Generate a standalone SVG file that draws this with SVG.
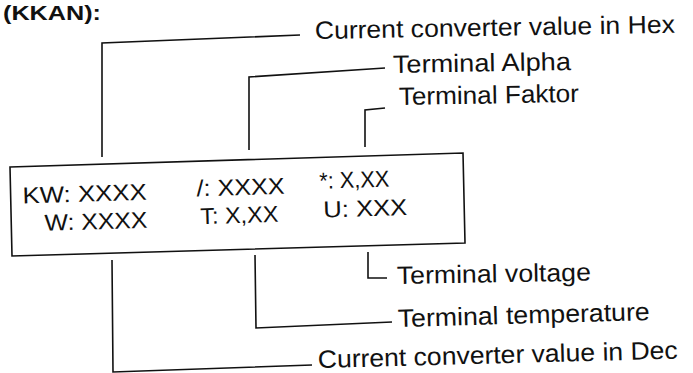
<svg xmlns="http://www.w3.org/2000/svg" width="693" height="373" viewBox="0 0 693 373">
<style>
.lbl{font-family:"Liberation Sans",Arial,sans-serif;font-size:25px;fill:#111}
.val{font-family:"Liberation Sans",Arial,sans-serif;font-size:23px;fill:#111}
.ttl{font-family:"Liberation Sans",Arial,sans-serif;font-size:21px;font-weight:bold;fill:#111}
.ln{fill:none;stroke:#111;stroke-width:1.6}
</style>
<rect width="693" height="373" fill="#fff"/>
<text class="ttl" x="3" y="20" textLength="98" lengthAdjust="spacingAndGlyphs">(KKAN):</text>
<g id="display">
<polygon class="ln" points="10,167 463,153 465,243 12,256"/>
<g transform="rotate(-1.7 240 205)">
<text class="val" x="23" y="197" textLength="124" lengthAdjust="spacingAndGlyphs">KW: XXXX</text>
<text class="val" x="44" y="225" textLength="103" lengthAdjust="spacingAndGlyphs">W: XXXX</text>
<text class="val" x="197" y="195" textLength="88" lengthAdjust="spacingAndGlyphs">/: XXXX</text>
<text class="val" x="200" y="223" textLength="78" lengthAdjust="spacingAndGlyphs">T: X,XX</text>
<text class="val" x="320" y="191" textLength="70" lengthAdjust="spacingAndGlyphs">*: X,XX</text>
<text class="val" x="323" y="220" textLength="84" lengthAdjust="spacingAndGlyphs">U: XXX</text>
</g>
</g>
<g id="connectors">
<polyline class="ln" points="102,157 102,43 300,35"/>
<polyline class="ln" points="249,150 249,77 385,68"/>
<polyline class="ln" points="365,147 365,110 385,108"/>
<polyline class="ln" points="368,252 368,278 387,278"/>
<polyline class="ln" points="255,255 256,328 392,322"/>
<polyline class="ln" points="112,260 113,372 312,365"/>
</g>
<g id="label-hex"><text class="lbl" x="315" y="39" textLength="360" lengthAdjust="spacingAndGlyphs" transform="rotate(-1 315 39)">Current converter value in Hex</text></g>
<g id="label-alpha"><text class="lbl" x="393" y="73" textLength="178" lengthAdjust="spacingAndGlyphs" transform="rotate(-1 393 73)">Terminal Alpha</text></g>
<g id="label-faktor"><text class="lbl" x="399" y="105" textLength="180" lengthAdjust="spacingAndGlyphs" transform="rotate(-1 399 105)">Terminal Faktor</text></g>
<g id="label-voltage"><text class="lbl" x="397" y="284" textLength="194" lengthAdjust="spacingAndGlyphs" transform="rotate(-1 397 284)">Terminal voltage</text></g>
<g id="label-temp"><text class="lbl" x="398" y="327" textLength="252" lengthAdjust="spacingAndGlyphs" transform="rotate(-1.6 398 327)">Terminal temperature</text></g>
<g id="label-dec"><text class="lbl" x="318" y="368" textLength="360" lengthAdjust="spacingAndGlyphs" transform="rotate(-1.5 318 368)">Current converter value in Dec</text></g>
</svg>
